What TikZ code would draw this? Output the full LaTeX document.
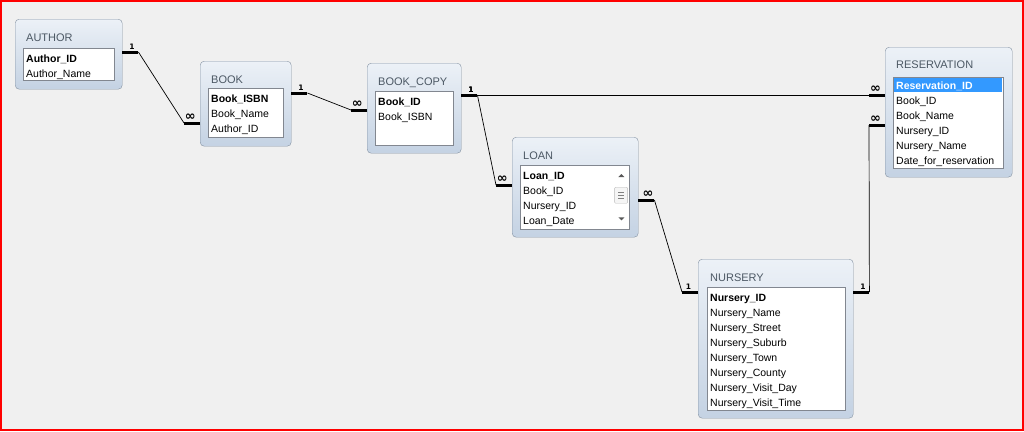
\documentclass[tikz,border=0pt]{standalone}
\usepackage{fontspec}
\setmainfont{Liberation Sans}
\newfontfamily\cardfont{DejaVu Sans}
\usetikzlibrary{calc}
\definecolor{winbg}{RGB}{240,240,240}
\definecolor{frameline}{RGB}{132,146,162}
\definecolor{titletext}{RGB}{76,88,100}
\definecolor{boxtop}{RGB}{236,241,247}
\definecolor{boxbot}{RGB}{196,210,227}
\definecolor{listline}{RGB}{130,135,144}
\definecolor{keysel}{RGB}{51,153,255}
\newcommand\manyside{{\fontsize{13}{13}\selectfont ∞}}

\begin{document}
\begin{tikzpicture}[x=1pt,y=-1pt,
  table/.style={draw=frameline,rounded corners=4pt,top color=boxtop,bottom color=boxbot,anchor=north west,inner sep=0pt},
  list/.style={draw=listline,fill=white,anchor=north west,inner sep=0pt},
  title/.style={anchor=base west,inner sep=0pt,text=titletext,font=\fontsize{11}{11}\selectfont},
  field/.style={anchor=base west,inner sep=0pt,font=\fontsize{10.5}{10.5}\selectfont},
  key/.style={field,font=\fontsize{10.5}{10.5}\selectfont\bfseries},
  link/.style={black,line width=0.7pt},
  stub/.style={black,line width=3pt},
  card/.style={above=1.5pt,inner sep=0pt,font=\cardfont\fontsize{7.5}{7.5}\selectfont\bfseries}]
  \useasboundingbox (0,0) rectangle (1024,431);
  \fill[winbg] (0,0) rectangle (1024,431);
  \draw[red,line width=2pt] (1,1) rectangle (1023,430);

  % AUTHOR
  \node[table,minimum width=107pt,minimum height=70pt] (author) at (15,19) {};
  \node[title] (authorT) at ($(author.north west)+(11,22)$) {AUTHOR};
  \node[list,minimum width=91pt,minimum height=32pt] (authorL) at ($(author.north west)+(8,29)$) {};
  \node[key] (authorK) at ($(authorL.north west)+(3,14)$) {Author\_ID};
  \foreach \f [count=\i] in {Author\_Name}
    \node[field] (author\i) at ($(authorK.base west)+(0,15*\i)$) {\f};

  % BOOK
  \node[table,minimum width=91pt,minimum height=85pt] (book) at (200,61) {};
  \node[title] (bookT) at ($(book.north west)+(11,22)$) {BOOK};
  \node[list,minimum width=75pt,minimum height=49pt] (bookL) at ($(book.north west)+(8,27)$) {};
  \node[key] (bookK) at ($(bookL.north west)+(3,14)$) {Book\_ISBN};
  \foreach \f [count=\i] in {Book\_Name,Author\_ID}
    \node[field] (book\i) at ($(bookK.base west)+(0,15*\i)$) {\f};

  % BOOK_COPY
  \node[table,minimum width=94pt,minimum height=90pt] (copy) at (367,63) {};
  \node[title] (copyT) at ($(copy.north west)+(11,22)$) {BOOK\_COPY};
  \node[list,minimum width=78pt,minimum height=54pt] (copyL) at ($(copy.north west)+(8,28)$) {};
  \node[key] (copyK) at ($(copyL.north west)+(3,14)$) {Book\_ID};
  \foreach \f [count=\i] in {Book\_ISBN}
    \node[field] (copy\i) at ($(copyK.base west)+(0,15*\i)$) {\f};

  % LOAN
  \node[table,minimum width=126pt,minimum height=100pt] (loan) at (512,137) {};
  \node[title] (loanT) at ($(loan.north west)+(11,22)$) {LOAN};
  \node[list,minimum width=109pt,minimum height=64pt] (loanL) at ($(loan.north west)+(8,28)$) {};
  \node[key] (loanK) at ($(loanL.north west)+(3,14)$) {Loan\_ID};
  \foreach \f [count=\i] in {Book\_ID,Nursery\_ID,Loan\_Date}
    \node[field] (loan\i) at ($(loanK.base west)+(0,15*\i)$) {\f};
  \node[draw=gray!55,fill=gray!8,rounded corners=1pt,minimum width=13pt,minimum height=16pt,anchor=north west,inner sep=0pt] (loanThumb) at ($(loanL.north east)+(-15,22)$) {};
  \foreach \d in {-3,0,3}
    \draw[gray] ($(loanThumb.center)+(-3,\d)$) -- ++(6,0);
  \fill[gray!70!black] ($(loanL.north east)+(-8,9)$) -- ++(-3,3) -- ++(6,0) -- cycle;
  \fill[gray!70!black] ($(loanL.south east)+(-8,-9)$) -- ++(-3,-3) -- ++(6,0) -- cycle;

  % NURSERY
  \node[table,minimum width=155pt,minimum height=159pt] (nursery) at (698,259) {};
  \node[title] (nurseryT) at ($(nursery.north west)+(12,22)$) {NURSERY};
  \node[list,minimum width=138pt,minimum height=123pt] (nurseryL) at ($(nursery.north west)+(9,28)$) {};
  \node[key] (nurseryK) at ($(nurseryL.north west)+(3,14)$) {Nursery\_ID};
  \foreach \f [count=\i] in {Nursery\_Name,Nursery\_Street,Nursery\_Suburb,Nursery\_Town,Nursery\_County,Nursery\_Visit\_Day,Nursery\_Visit\_Time}
    \node[field] (nursery\i) at ($(nurseryK.base west)+(0,15*\i)$) {\f};

  % RESERVATION
  \node[table,minimum width=127pt,minimum height=130pt] (res) at (885,47) {};
  \node[title] (resT) at ($(res.north west)+(11,21)$) {RESERVATION};
  \node[list,minimum width=110pt,minimum height=91pt] (resL) at ($(res.north west)+(8,30)$) {};
  \node[fill=keysel,inner sep=0pt,minimum width=108pt,minimum height=14pt,anchor=north west] (resH) at ($(resL.north west)+(1,1)$) {};
  \node[key,text=white] (resK) at ($(resL.north west)+(3,12)$) {Reservation\_ID};
  \foreach \f [count=\i] in {Book\_ID,Book\_Name,Nursery\_ID,Nursery\_Name,Date\_for\_reservation}
    \node[field] (res\i) at ($(resK.base west)+(0,15*\i)$) {\f};

  % relationships
  \foreach \a/\ay/\b/\by/\la/\lb in {author/33/book/62/1/\manyside, book/32/copy/47/1/\manyside,
      copy/32/res/48/1/\manyside, copy/32/loan/48/1/\manyside, loan/63/nursery/33/\manyside/1, nursery/33/res/78/1/\manyside}{
    \draw[stub] ($(\a.north east)+(0,\ay)$) -- ++(16,0) coordinate (p) node[card,pos=.6] {\la};
    \draw[stub] ($(\b.north west)+(0,\by)$) -- ++(-16,0) coordinate (q) node[card,pos=.6] {\lb};
    \draw[link] (p) -- (q);
  }
\end{tikzpicture}
\end{document}
